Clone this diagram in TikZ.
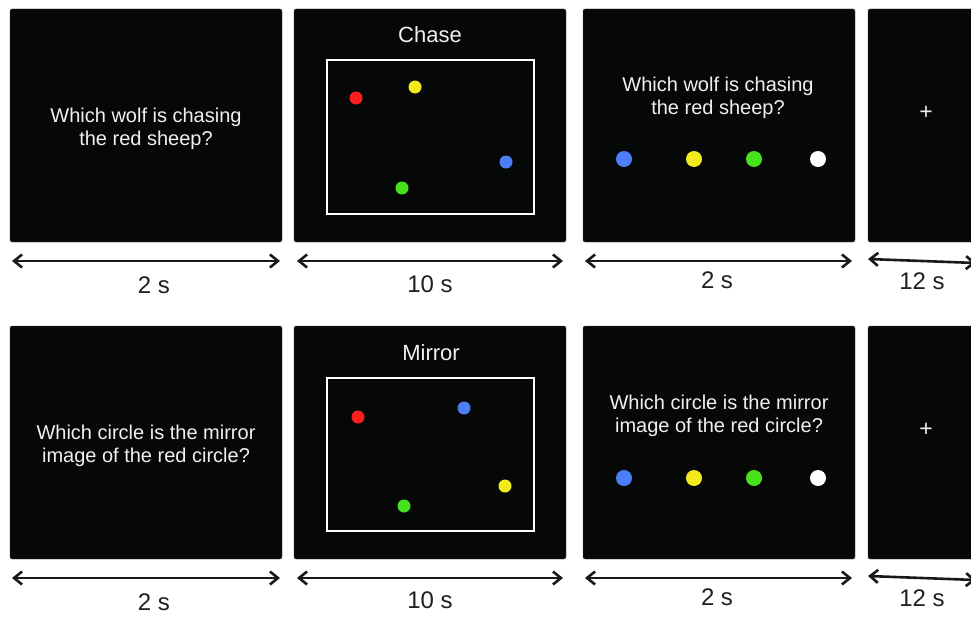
\documentclass[tikz,border=0pt]{standalone}
\usepackage{fontspec}
\setmainfont{Liberation Sans}
\usetikzlibrary{arrows.meta}
\definecolor{scr}{HTML}{060808}
\definecolor{dred}{HTML}{FF1E1E}
\definecolor{dyel}{HTML}{F2EA1C}
\definecolor{dgrn}{HTML}{48E21C}
\definecolor{dblu}{HTML}{4C7EF8}
\definecolor{txt}{HTML}{F0F0F0}
\tikzset{
  screen/.style={fill=scr, draw=black!70, line width=0.4pt, rounded corners=2pt},
  arena/.style={draw=white, line width=2pt},
  qtext/.style={text=txt, align=center, inner sep=0pt, font=\fontsize{20}{23}\selectfont},
  ptext/.style={text=txt, inner sep=0pt, font=\fontsize{23}{24}\selectfont},
  ttext/.style={text=txt, inner sep=0pt, font=\fontsize{22}{24}\selectfont},
  lbl/.style={text=black!88, inner sep=0pt, font=\fontsize{24}{26}\selectfont},
  tl/.style={line width=2.6pt, black!90, {Straight Barb[length=8pt,width=13pt]}-{Straight Barb[length=8pt,width=13pt]}},
  dotS/.style={circle, inner sep=0pt, minimum size=13pt},
  dotR/.style={circle, inner sep=0pt, minimum size=16pt},
}
\begin{document}
\begin{tikzpicture}[x=1pt,y=-1pt]
\useasboundingbox (0,0) rectangle (971,618);
\clip (0,0) rectangle (971,618);
\fill[white] (0,0) rectangle (971,618);
% ===== Top row =====
\path[screen] (10,9) rectangle (282,242);
\path[screen] (294,9) rectangle (566,242);
\path[screen] (583,9) rectangle (855,242);
\path[screen] (868,9) rectangle (990,242);
\node[qtext] (q1) at (146,128.5) {Which wolf is chasing\\the red sheep?};
\node[ttext] (t1) at (430,35) {Chase};
\draw[arena] (327,60) rectangle (534,214);
\node[dotS, fill=dred] (a1) at (356,98) {};
\node[dotS, fill=dyel] (a2) at (415,87) {};
\node[dotS, fill=dblu] (a3) at (506,162) {};
\node[dotS, fill=dgrn] (a4) at (402,188) {};
\node[qtext] (q2) at (718,98) {Which wolf is chasing\\the red sheep?};
\node[dotR, fill=dblu] (r1) at (624,159) {};
\node[dotR, fill=dyel] (r2) at (694,159) {};
\node[dotR, fill=dgrn] (r3) at (754,159) {};
\node[dotR, fill=white] (r4) at (818,159) {};
\node[ptext] (f1) at (926,113) {+};
% arrows top
\coordinate (p1l) at (12,261); \coordinate (p1r) at (280,261);
\coordinate (p2l) at (297,261); \coordinate (p2r) at (563,261);
\coordinate (p3l) at (585,261); \coordinate (p3r) at (852,261);
\coordinate (p4l) at (868,259); \coordinate (p4r) at (976,263);
\draw[tl] (p1l) -- (p1r);
\draw[tl] (p2l) -- (p2r);
\draw[tl] (p3l) -- (p3r);
\draw[tl] (p4l) -- (p4r);
\node[lbl] (l1) at (154,285) {2 s};
\node[lbl] (l2) at (430,284) {10 s};
\node[lbl] (l3) at (717,280) {2 s};
\node[lbl] (l4) at (922,281) {12 s};
% ===== Bottom row =====
\path[screen] (10,326) rectangle (282,559);
\path[screen] (294,326) rectangle (566,559);
\path[screen] (583,326) rectangle (855,559);
\path[screen] (868,326) rectangle (990,559);
\node[qtext] (q3) at (146,446) {Which circle is the mirror\\image of the red circle?};
\node[ttext] (t2) at (431,353) {Mirror};
\draw[arena] (327,378) rectangle (534,531);
\node[dotS, fill=dred] (b1) at (358,417) {};
\node[dotS, fill=dblu] (b2) at (464,408) {};
\node[dotS, fill=dyel] (b3) at (505,486) {};
\node[dotS, fill=dgrn] (b4) at (404,506) {};
\node[qtext] (q4) at (719,416) {Which circle is the mirror\\image of the red circle?};
\node[dotR, fill=dblu] (s1) at (624,478) {};
\node[dotR, fill=dyel] (s2) at (694,478) {};
\node[dotR, fill=dgrn] (s3) at (754,478) {};
\node[dotR, fill=white] (s4) at (818,478) {};
\node[ptext] (f2) at (926,430) {+};
% arrows bottom
\coordinate (m1l) at (12,578); \coordinate (m1r) at (280,578);
\coordinate (m2l) at (297,578); \coordinate (m2r) at (563,578);
\coordinate (m3l) at (585,578); \coordinate (m3r) at (852,578);
\coordinate (m4l) at (868,576); \coordinate (m4r) at (976,580);
\draw[tl] (m1l) -- (m1r);
\draw[tl] (m2l) -- (m2r);
\draw[tl] (m3l) -- (m3r);
\draw[tl] (m4l) -- (m4r);
\node[lbl] (n1) at (154,602) {2 s};
\node[lbl] (n2) at (430,600) {10 s};
\node[lbl] (n3) at (717,597) {2 s};
\node[lbl] (n4) at (922,598) {12 s};
\end{tikzpicture}
\end{document}
